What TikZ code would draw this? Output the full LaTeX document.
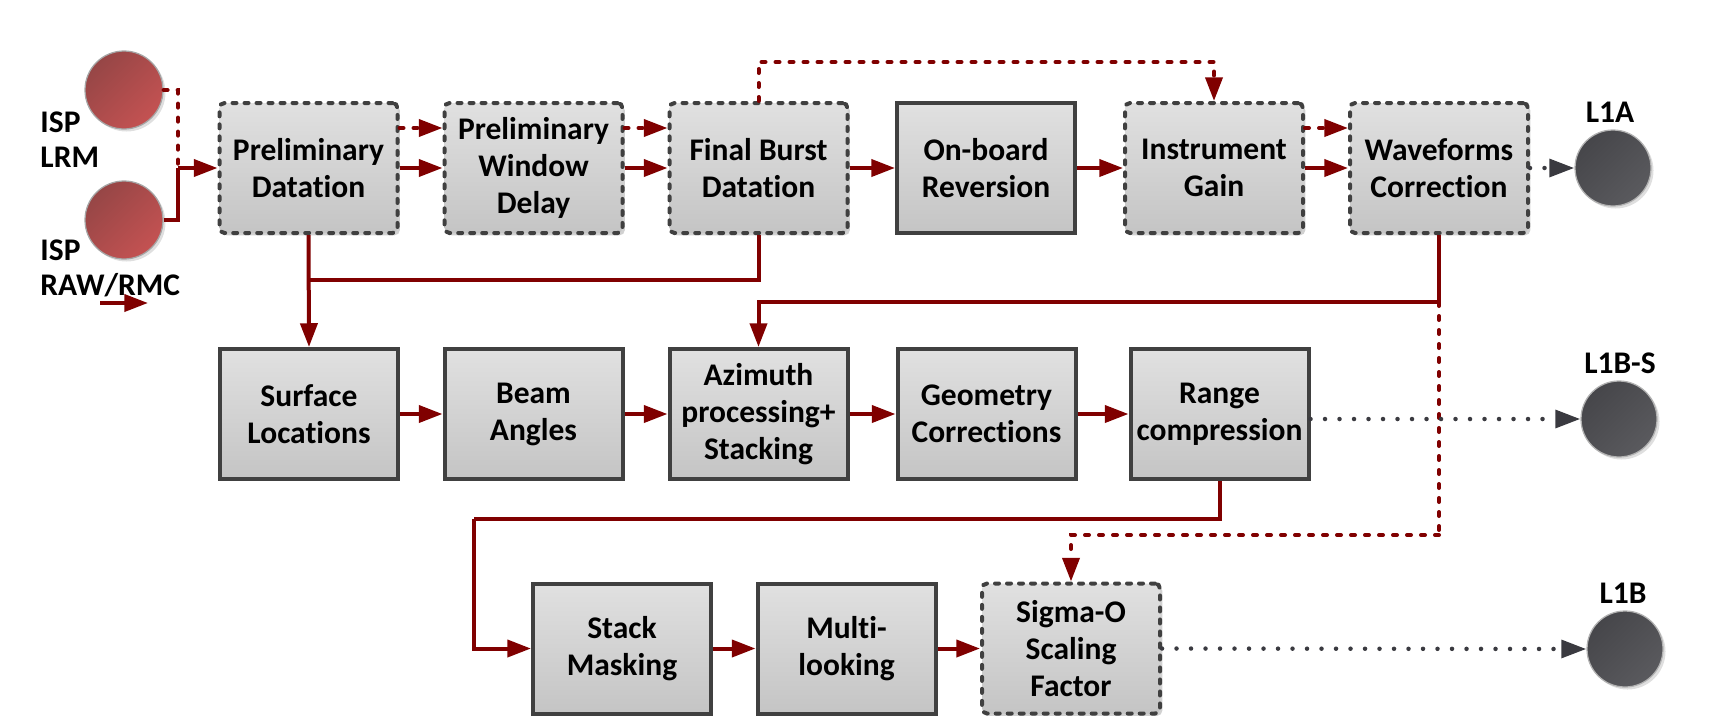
\documentclass[tikz,border=0pt]{standalone}
\usepackage{fontspec}
\setmainfont{Carlito}[Ligatures=NoCommon]
\usetikzlibrary{arrows.meta,shadows}
\definecolor{dred}{RGB}{128,0,0}
\definecolor{bord}{RGB}{64,64,64}
\definecolor{dgray}{RGB}{58,58,64}
\definecolor{cred1}{RGB}{150,70,70}
\definecolor{cred2}{RGB}{196,82,82}
\definecolor{cdk1}{RGB}{70,70,74}
\definecolor{cdk2}{RGB}{90,90,94}
\newcommand\bxfont{\fontsize{12.6pt}{14.8pt}\selectfont\bfseries}
\newcommand\lbfont{\fontsize{12.6pt}{14pt}\selectfont\bfseries}
\begin{document}
\begin{tikzpicture}[x=0.4pt,y=-0.4pt,
  box/.style={minimum width=71.2pt, minimum height=52pt, inner sep=1pt, align=center,
    font=\bxfont, top color=gray!24, bottom color=gray!46,
    drop shadow={shadow xshift=0.9pt,shadow yshift=-0.9pt,fill=black,opacity=0.18}},
  solidbox/.style={box, draw=bord, line width=1.6pt},
  dashbox/.style={box, draw=bord, line width=1.6pt, dash pattern=on 1.6pt off 3.2pt,
    line cap=round, rounded corners=2pt},
  incirc/.style={circle, minimum size=31.2pt, inner sep=0pt, draw=gray!70, line width=0.5pt,
    shading=axis, left color=cred1, right color=cred2, shading angle=45,
    drop shadow={shadow xshift=1pt,shadow yshift=-1pt,fill=gray,opacity=0.25}},
  outcirc/.style={circle, minimum size=30.4pt, inner sep=0pt, draw=gray!60, line width=0.5pt,
    shading=axis, left color=cdk1, right color=cdk2, shading angle=45,
    drop shadow={shadow xshift=1pt,shadow yshift=-1pt,fill=gray,opacity=0.25}},
  lab/.style={font=\lbfont, inner sep=0pt},
  redline/.style={draw=dred, line width=1.6pt},
  redarrow/.style={redline, -{Triangle[length=9.5pt,width=6.8pt]}},
  reddot/.style={draw=dred, line width=1.6pt, dash pattern=on 1.6pt off 4pt, line cap=round},
  reddotarrow/.style={reddot, -{Triangle[length=9.5pt,width=6.8pt]}},
  graydot/.style={draw=dgray, line width=1.8pt, dash pattern=on 0pt off 5.8pt, line cap=round,
    -{Triangle[length=10pt,width=7pt,fill=dgray]}}
]
\useasboundingbox (0,0) rectangle (1713,721);

% input circles and labels
\node[incirc] (lrm) at (124,90) {};
\node[incirc] (raw) at (124,220) {};
\node[lab, anchor=west, align=left] (lrmlab) at (40,140) {ISP\\LRM};
\node[lab, anchor=west, align=left] (rawlab) at (40,268) {ISP\\RAW/RMC};

% output circles and labels
\node[outcirc] (l1a) at (1613,168) {};
\node[outcirc] (l1bs) at (1619,419) {};
\node[outcirc] (l1b) at (1625,649) {};
\node[lab] (l1alab) at (1610,112) {L1A};
\node[lab] (l1bslab) at (1620,363) {L1B-S};
\node[lab] (l1blab) at (1623,593) {L1B};

% row 1
\node[dashbox] (pd) at (308.5,168) {Preliminary\\Datation};
\node[dashbox] (pwd) at (533.5,168) {Preliminary\\Window\\Delay};
\node[dashbox] (fbd) at (758.5,168) {Final Burst\\Datation};
\node[solidbox] (ob) at (986,168) {On-board\\Reversion};
\node[dashbox] (ig) at (1214,168) {Instrument\\Gain};
\node[dashbox] (wc) at (1439,168) {Waveforms\\Correction};

% row 2
\node[solidbox] (sl) at (309,414) {Surface\\Locations};
\node[solidbox] (ba) at (533.5,414) {Beam\\Angles};
\node[solidbox] (az) at (758.5,414) {Azimuth\\processing+\\Stacking};
\node[solidbox] (gc) at (986.5,414) {Geometry\\Corrections};
\node[solidbox] (rc) at (1219.5,414) {Range\\compression};

% row 3
\node[solidbox] (sm) at (622,648.5) {Stack\\Masking};
\node[solidbox] (ml) at (846.5,648.5) {Multi-\\looking};
\node[dashbox] (sg) at (1071,648.5) {Sigma-O\\Scaling\\Factor};

% junction coordinates
\coordinate (j0) at (178,168);
\coordinate (j1) at (308.5,280);
\coordinate (j2) at (1439,302);
\coordinate (j3) at (1439,535);
\coordinate (j4) at (474,519);
\coordinate (la) at (100,303);
\coordinate (lb) at (148,303);

% inputs
\draw[reddot] (lrm.east) -| (j0);
\draw[redline] (raw.east) -| (j0);
\draw[redarrow] (j0) -- (pd.west);

% row 1 connectors
\draw[reddotarrow] ([yshift=16pt]pd.east) -- ([yshift=16pt]pwd.west);
\draw[redarrow] (pd.east) -- (pwd.west);
\draw[reddotarrow] ([yshift=16pt]pwd.east) -- ([yshift=16pt]fbd.west);
\draw[redarrow] (pwd.east) -- (fbd.west);
\draw[redarrow] (fbd.east) -- (ob.west);
\draw[redarrow] (ob.east) -- (ig.west);
\draw[reddotarrow] ([yshift=16pt]ig.east) -- ([yshift=16pt]wc.west);
\draw[redarrow] (ig.east) -- (wc.west);
\draw[reddotarrow] (fbd.north) -- ++(0,-39) -| (ig.north);
\draw[graydot] (wc.east) -- (l1a.west);

% down links
\draw[redarrow] (pd.south) -- (sl.north);
\draw[redline] (fbd.south) |- (j1);
\draw[redline] (wc.south) -- (j2);
\draw[redarrow] (j2) -| (az.north);
\draw[reddot] (j2) -- (j3);
\draw[reddotarrow] (j3) -| (sg.north);

% row 2 connectors
\draw[redarrow] (sl.east) -- (ba.west);
\draw[redarrow] (ba.east) -- (az.west);
\draw[redarrow] (az.east) -- (gc.west);
\draw[redarrow] (gc.east) -- (rc.west);
\draw[graydot] (rc.east |- l1bs.center) -- (l1bs.west);

% row 3 connectors
\draw[redline] (rc.south) |- (j4);
\draw[redarrow] (j4) |- (sm.west);
\draw[redarrow] (sm.east) -- (ml.west);
\draw[redarrow] (ml.east) -- (sg.west);
\draw[graydot] (sg.east) -- (l1b.west);

% stray legend arrow
\draw[redarrow] (la) -- (lb);
\end{tikzpicture}
\end{document}
